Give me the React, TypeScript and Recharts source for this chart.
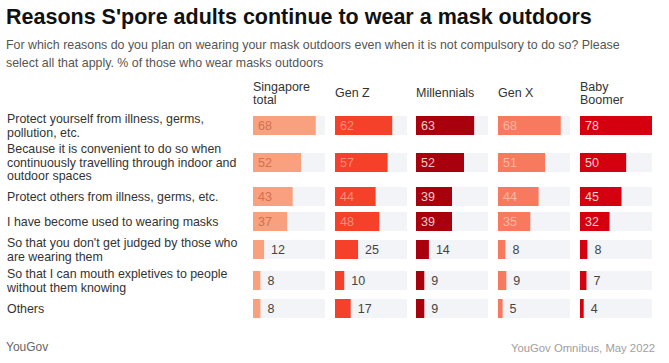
import React from 'react';
import { BarChart, Bar, XAxis, YAxis, LabelList } from 'recharts';

const reasons = [
  "Protect yourself from illness, germs,\npollution, etc.",
  "Because it is convenient to do so when\ncontinuously travelling through indoor and\noutdoor spaces",
  "Protect others from illness, germs, etc.",
  "I have become used to wearing masks",
  "So that you don't get judged by those who\nare wearing them",
  "So that I can mouth expletives to people\nwithout them knowing",
  "Others",
];
const groups = ["Singapore\ntotal", "Gen Z", "Millennials", "Gen X", "Baby\nBoomer"];
const singaporeTotal = [68, 52, 43, 37, 12, 8, 8];
const genZ = [62, 57, 44, 48, 25, 10, 17];
const millennials = [63, 52, 39, 39, 14, 9, 9];
const genX = [68, 51, 44, 35, 8, 9, 5];
const babyBoomer = [78, 50, 45, 32, 8, 7, 4];
const seriesValues = [singaporeTotal, genZ, millennials, genX, babyBoomer];

const barColors = ['#f9a07e', '#f5402a', '#a8000c', '#f87a5e', '#d4000f'];
const insideLabelColors = ['#d2704f', '#f98f7c', '#f8c9c9', '#fdb7a3', '#ffd2d2'];
const FONT = '"Liberation Sans", Arial, sans-serif';

// row layout derived from number of label lines
const rowSpanByLines = [0, 25, 31, 43];
const rowLines = reasons.map((r) => r.split('\n').length);
const rowSpans = rowLines.map((l) => rowSpanByLines[l]);
const totalSpan = rowSpans.reduce((a, b) => a + b, 0);
const rowPos = rowSpans.map((s, i) => rowSpans.slice(0, i).reduce((a, b) => a + b, 0) + s / 2);

const PANEL_W = 72;
const AXIS_W = 253;
const PANEL_LEFTS = [253, 335, 416, 498, 580];
const PLOT_TOP = 110;
const X_MAX = 78;

const ReasonTick = (props: any) => {
  const { y, index } = props;
  const lines = reasons[index].split('\n');
  const lh = 13.5;
  const startY = y - ((lines.length - 1) * lh) / 2;
  return (
    <text x={7} y={startY} fontSize={12.4} fill="#333" fontFamily={FONT} textAnchor="start">
      {lines.map((ln, i) => (
        <tspan key={i} x={7} dy={i === 0 ? '0.35em' : lh}>{ln}</tspan>
      ))}
    </text>
  );
};

const makeValueLabel = (k: number) => (props: any) => {
  const { x, y, width, height, value } = props;
  const inside = value >= 30;
  return (
    <text
      x={inside ? x + 5 : x + width + 7}
      y={y + height / 2}
      dy="0.36em"
      fontSize={12.5}
      fontFamily={FONT}
      fill={inside ? insideLabelColors[k] : '#444'}
    >
      {value}
    </text>
  );
};

export default function App() {
  return (
    <div style={{ position: 'absolute', left: 0, top: 0, width: 669, height: 363, background: '#fff', fontFamily: FONT, overflow: 'hidden' }}>
      <div style={{ position: 'absolute', left: 6, top: 3, fontSize: 21.5, fontWeight: 700, color: '#111', lineHeight: '28px', whiteSpace: 'nowrap' }}>
        Reasons S'pore adults continue to wear a mask outdoors
      </div>
      <div style={{ position: 'absolute', left: 6, top: 37, width: 625, fontSize: 12.4, color: '#555', lineHeight: '17.5px' }}>
        For which reasons do you plan on wearing your mask outdoors even when it is not compulsory to do so? Please select all that apply. % of those who wear masks outdoors
      </div>
      {groups.map((g, k) => (
        <div key={g} style={{ position: 'absolute', left: PANEL_LEFTS[k], top: 80.5, height: 26, display: 'flex', alignItems: 'center', fontSize: 12.5, color: '#333', lineHeight: '13px', whiteSpace: 'pre' }}>
          {g}
        </div>
      ))}
      {seriesValues.map((vals, k) => {
        const data = vals.map((v, i) => ({ pos: rowPos[i], value: v }));
        const first = k === 0;
        const width = first ? AXIS_W + PANEL_W : PANEL_W;
        return (
          <div key={k} style={{ position: 'absolute', left: first ? 0 : PANEL_LEFTS[k], top: PLOT_TOP }}>
            <BarChart width={width} height={totalSpan} data={data} layout="vertical" margin={{ top: 0, right: 0, bottom: 0, left: 0 }}>
              <XAxis type="number" dataKey="value" domain={[0, X_MAX]} hide allowDataOverflow />
              <YAxis
                type="number"
                dataKey="pos"
                domain={[0, totalSpan]}
                hide={!first}
                width={first ? AXIS_W : 0}
                ticks={rowPos}
                interval={0}
                tickLine={false}
                axisLine={false}
                tick={<ReasonTick />}
                allowDataOverflow
              />
              <Bar dataKey="value" fill={barColors[k]} barSize={19} background={{ fill: '#f3f4f7' }} isAnimationActive={false}>
                <LabelList dataKey="value" content={makeValueLabel(k)} />
              </Bar>
            </BarChart>
          </div>
        );
      })}
      <div style={{ position: 'absolute', left: 6, top: 340, fontSize: 12, color: '#666', lineHeight: '14px' }}>YouGov</div>
      <div style={{ position: 'absolute', right: 14, top: 342, fontSize: 11.3, color: '#a0a0a0', lineHeight: '12px' }}>YouGov Omnibus, May 2022</div>
    </div>
  );
}
